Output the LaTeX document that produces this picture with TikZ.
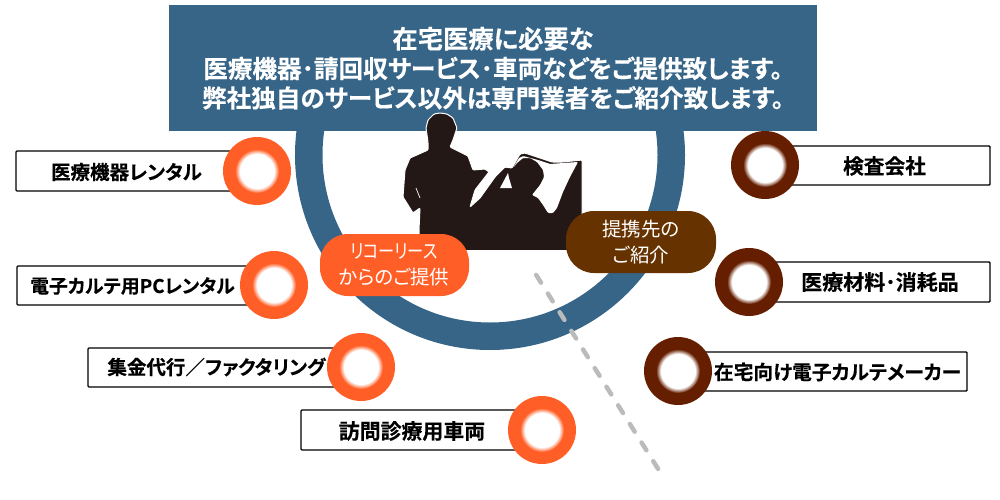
\documentclass[tikz,border=0pt]{standalone}
\usepackage{fontspec}
\setmainfont{Noto Sans CJK JP}[BoldFont={Noto Sans CJK JP Bold},BoldFeatures={FakeBold=0.3},RawFeature={+palt}]
\definecolor{ringblue}{HTML}{366588}
\definecolor{ringorange}{HTML}{FF5F26}
\definecolor{ringbrown}{HTML}{661E00}
\definecolor{pillbrown}{HTML}{663300}
\definecolor{sil}{HTML}{231815}
\definecolor{dashgrey}{HTML}{BBBBBB}
\pgfdeclareradialshading{glowo}{\pgfpointorigin}{color(0bp)=(white);color(19.5bp)=(white);color(25bp)=(ringorange);color(50bp)=(ringorange)}
\pgfdeclareradialshading{glowb}{\pgfpointorigin}{color(0bp)=(white);color(19.5bp)=(white);color(25bp)=(ringbrown);color(50bp)=(ringbrown)}
\tikzset{
  labelbox/.style={draw=black,line width=1.4pt,rounded corners=1pt,fill=white,inner sep=0pt},
  labeltext/.style={font=\fontsize{#1}{22}\selectfont\bfseries,text=black,inner sep=0pt},
  headtext/.style={font=\fontsize{24.6}{29.5}\selectfont\bfseries,text=white,align=center,inner sep=0pt},
  pilltext/.style={font=\fontsize{19.5}{26}\selectfont,text=white,align=center,inner sep=0pt},
  ringo/.style={circle,fill=ringorange,minimum size=68pt,inner sep=0pt},
  ringb/.style={circle,fill=ringbrown,minimum size=68pt,inner sep=0pt},
  holeo/.style={circle,shading=glowo,minimum size=44pt,inner sep=0pt},
  holeb/.style={circle,shading=glowb,minimum size=44pt,inner sep=0pt},
}
\newcommand{\lbox}[6]{% name, x1,y1,x2,y2, unused
  \node[labelbox,minimum width=#4pt-#2pt,minimum height=#5pt-#3pt] (#1) at ({(#2+#4)/2},{(#3+#5)/2}) {};}
\begin{document}
\begin{tikzpicture}[x=1pt,y=-1pt]
\useasboundingbox (0,0) rectangle (1000,500);
\fill[white] (0,0) rectangle (1000,500);
% big ring
\begin{scope}
\clip (0,100) rectangle (1000,500);
\fill[ringblue,even odd rule] (490,155) circle (195) (490,155) circle (167.5);
\end{scope}
% header
\node[fill=ringblue,minimum width=648pt,minimum height=126pt,inner sep=0pt] (header) at (493,68) {};
\node[headtext] (headtxt) at (493,68.2) {{\fontsize{25.3}{29.5}\selectfont 在宅医療に必要な}\\医療機器･請回収サービス･車両などをご提供致します。\\弊社独自のサービス以外は専門業者をご紹介致します。};
% silhouette
\fill[sil,draw=white,line width=1pt,rounded corners=1pt] (419,250.5) -- (419,230) -- (420,208) -- (413,213) -- (403,197) -- (405,170) -- (410,158) -- (428,150) -- (428,142) -- (426,128) -- (428,120) -- (434,114) -- (440,113) -- (447,114) -- (453,118) -- (457,128) -- (453,140) -- (450,147) -- (468,156) -- (473,170) -- (485,169) -- (489,172) -- (475,190) -- (470,207) -- (480,198) -- (495,177) -- (505,167) -- (512,168) -- (520,154) -- (525,153) -- (540,158) -- (552,162) -- (563,162) -- (582,160) -- (582,250.5) -- cycle;
\fill[white,rounded corners=1pt] (523,156) -- (538,160) -- (550,164) -- (563,163) -- (578,162) -- (570,177) -- (563,192) -- (557,208) -- (553,213) -- (548,213) -- (543,205) -- (538,198) -- (532,195) -- (540,185) -- (544,177) -- (543,170) -- (537,162) -- (530,158) -- (523,158) -- (517,163) -- (513,168) -- (519,158) -- cycle;
\fill[white] (500,188) -- (508,173) -- (509,178) -- (512,188) -- cycle;
\draw[white,line width=0.7pt] (416,188) -- (420,198);
% dashed line
\coordinate (dashA) at (536.2,275);
\coordinate (dashB) at (658.8,470);
\draw[dashgrey,line width=4.5pt,line cap=round,dash pattern=on 9pt off 13pt] (dashA) -- (dashB);
% pills
\node[fill=ringorange,rounded corners=28pt,minimum width=149pt,minimum height=62pt,inner sep=0pt] (pillL) at (394.5,265) {};
\node[fill=pillbrown,rounded corners=28pt,minimum width=150pt,minimum height=62pt,inner sep=0pt] (pillR) at (641,242) {};
\node[pilltext] (pillLt) at (394,264.5) {\scalebox{.83}[1]{リコーリース}\\からのご提供};
\node[pilltext] (pillRt) at (641,242.5) {提携先の\\ご紹介};
% label boxes
\lbox{b1}{16}{151}{250}{191}{}
\lbox{b2}{17}{266}{260}{305}{}
\lbox{b3}{88}{348}{345}{387}{}
\lbox{b4}{301}{410}{525}{450}{}
\lbox{r1}{780}{146}{990}{185}{}
\lbox{r2}{765}{262}{990}{302}{}
\lbox{r3}{695}{352}{967}{391}{}
\node[labeltext=19.5] (t1) at (126.5,172) {医療機器レンタル};
\node[labeltext=18.8] (t2) at (132.5,286) {電子カルテ用PCレンタル};
\node[labeltext=19.5] (t3) at (216.5,367) {集金代行／ファクタリング};
\node[labeltext=20.9] (t4) at (412,431) {訪問診療用車両};
\node[labeltext=20.7] (t5) at (884.5,166) {検査会社};
\node[labeltext=21] (t6) at (880,282) {医療材料･消耗品};
\node[labeltext=19.7] (t7) at (837.5,372) {在宅向け電子カルテメーカー};
% discs
\node[ringo] (c1) at (257,171) {}; \node[holeo] (h1) at (c1) {};
\node[ringo] (c2) at (274,285) {}; \node[holeo] (h2) at (c2) {};
\node[ringo] (c3) at (361,367) {}; \node[holeo] (h3) at (c3) {};
\node[ringo] (c4) at (542,430) {}; \node[holeo] (h4) at (c4) {};
\node[ringb] (c5) at (765,165) {}; \node[holeb] (h5) at (c5) {};
\node[ringb] (c6) at (749,282) {}; \node[holeb] (h6) at (c6) {};
\node[ringb] (c7) at (678,371) {}; \node[holeb] (h7) at (c7) {};
\end{tikzpicture}
\end{document}
